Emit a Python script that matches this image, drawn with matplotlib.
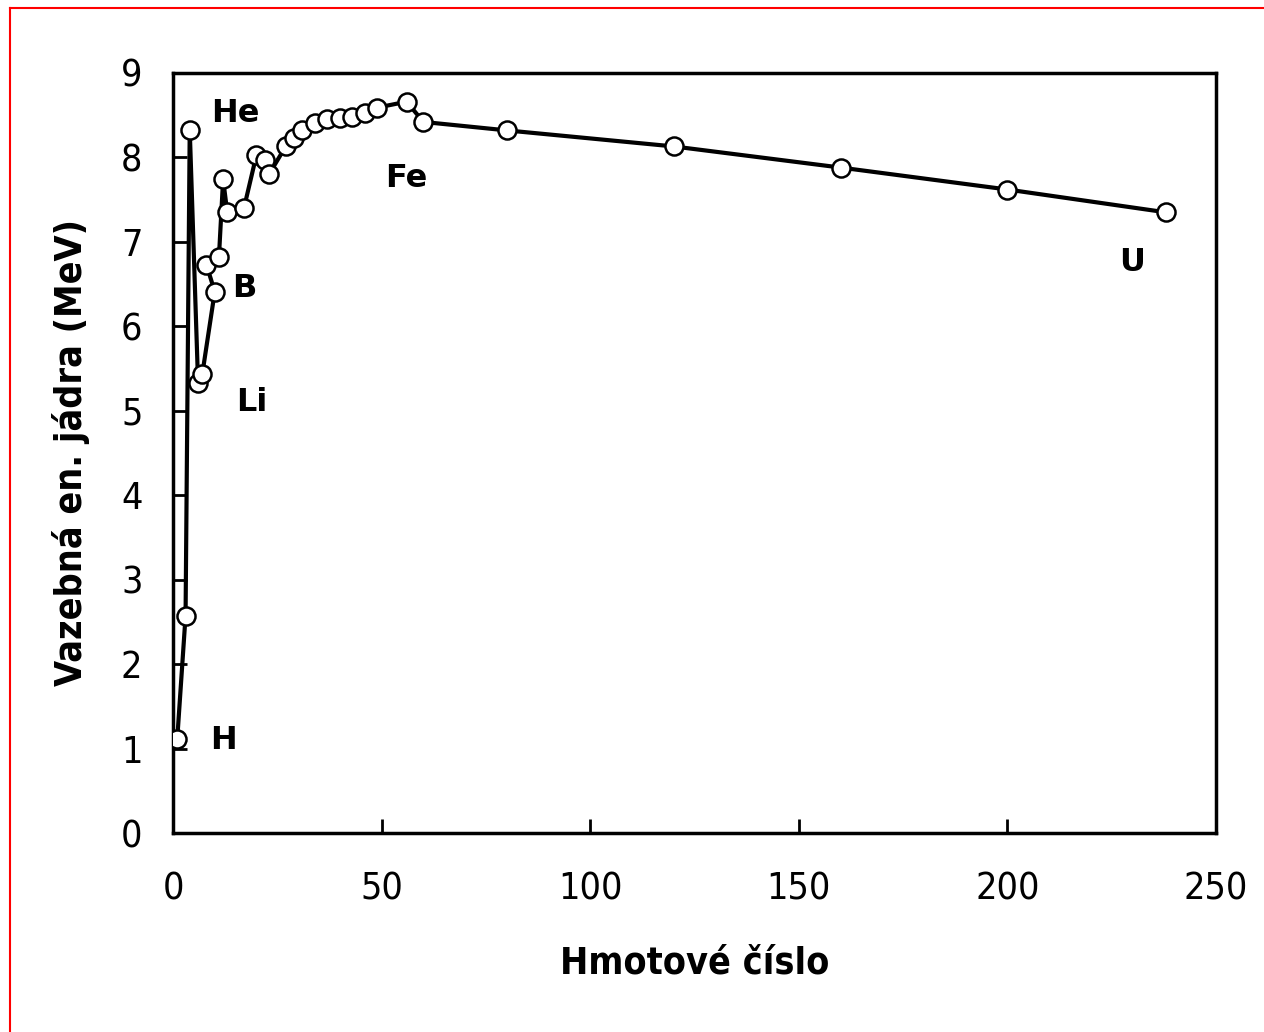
import matplotlib.pyplot as plt
from matplotlib.lines import Line2D

# Data: hmotové číslo vs. vazebná energie na nukleon
mass_number = [1, 3, 4, 6, 7, 10, 8, 11, 12, 13, 17, 20, 22, 23, 27, 29, 31, 34,
               37, 40, 43, 46, 49, 56, 60, 80, 120, 160, 200, 238]
binding_energy = [1.11, 2.57, 8.33, 5.33, 5.43, 6.41, 6.73, 6.82, 7.74, 7.35, 7.40,
                  8.03, 7.97, 7.80, 8.13, 8.23, 8.33, 8.41, 8.45, 8.47, 8.48, 8.53,
                  8.59, 8.66, 8.42, 8.32, 8.13, 7.88, 7.62, 7.35]

labels = ['H', 'He', 'Li', 'B', 'Fe', 'U']
label_x = [12, 15, 19, 17, 56, 230]
label_y = [1.1, 8.52, 5.1, 6.45, 7.75, 6.75]

plt.rcParams['font.family'] = ['DejaVu Sans']

fig = plt.figure(figsize=(12.64, 10.32), dpi=100)
ax = fig.add_axes([0.1369, 0.1928, 0.962 - 0.1369, 0.9293 - 0.1928])

ax.plot(mass_number, binding_energy, color='black', lw=3, marker='o',
        markersize=13, markerfacecolor='white', markeredgecolor='black',
        markeredgewidth=1.8, zorder=3)

for t, x, y in zip(labels, label_x, label_y):
    ax.text(x, y, t, fontsize=23, fontweight='bold', ha='center', va='center')

ax.set_xlim(0, 250)
ax.set_ylim(0, 9)
ax.set_xticks([0, 50, 100, 150, 200, 250])
ax.set_yticks(range(10))
ax.tick_params(direction='in', length=10, width=2, labelsize=27)
ax.tick_params(axis='y', pad=22)
ax.tick_params(axis='x', pad=28)
for lab in ax.get_xticklabels() + ax.get_yticklabels():
    lab.set_fontstretch('condensed')
for s in ax.spines.values():
    s.set_linewidth(2.5)

ax.set_xlabel('Hmotové číslo', fontsize=27, fontweight='bold', labelpad=27,
              fontstretch='condensed')
ax.set_ylabel('Vazebná en. jádra (MeV)', fontsize=27, fontweight='bold', labelpad=22,
              fontstretch='condensed')

# red frame (top and left edge)
fig.add_artist(Line2D([0.008, 0.008], [0.0, 0.992], color='red', lw=1.5,
                      transform=fig.transFigure))
fig.add_artist(Line2D([0.008, 1.0], [0.992, 0.992], color='red', lw=1.5,
                      transform=fig.transFigure))

fig.savefig('out.png', dpi=100)
